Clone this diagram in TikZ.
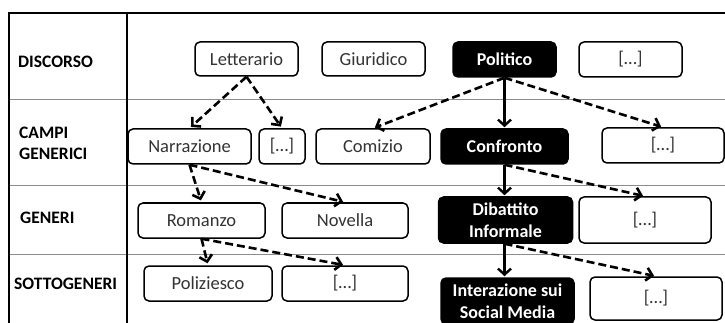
\documentclass[tikz,border=0pt]{standalone}
\usepackage{fontspec}
\setmainfont{Carlito}
\usetikzlibrary{arrows.meta}
\begin{document}
\begin{tikzpicture}[x=1pt,y=-1pt,
  box/.style={draw=black, line width=1.5pt, rounded corners=5pt, fill=white, text=black!80, inner sep=0pt, font=\fontsize{18.5}{21.5}\selectfont, align=center},
  hbox/.style={box, fill=black, text=white, font=\fontsize{18}{21.5}\selectfont\bfseries},
  lbl/.style={anchor=west, font=\fontsize{17.5}{21}\selectfont\bfseries, align=left, inner sep=0pt},
  darr/.style={line width=2.6pt, dash pattern=on 8pt off 4pt, shorten >=2pt, -{Straight Barb[length=6pt,width=13pt]}},
  sarr/.style={line width=2.4pt, shorten >=1pt, -{Straight Barb[length=6pt,width=13pt]}},
  sep/.style={draw=black!45, line width=0.8pt},
  frame/.style={draw=black, line width=1.4pt}]
\useasboundingbox (0,0) rectangle (725,323);
% grid
\draw[sep] (9,99) -- (725,99);
\draw[sep] (9,185) -- (725,185);
\draw[sep] (9,254) -- (725,254);
\draw[frame] (9,323) -- (9,13) -- (725,13);
\draw[frame] (127,13) -- (127,323);
% row labels
\node[lbl] (l1) at (18,62) {DISCORSO};
\node[lbl] (l2) at (19,143) {CAMPI\\GENERICI};
\node[lbl] (l3) at (20,218) {GENERI};
\node[lbl] (l4) at (14,284) {SOTTOGENERI};
% row 1
\node[box, minimum width=103pt, minimum height=34pt] (let) at (246.5,59) {Letterario};
\node[box, minimum width=103pt, minimum height=34pt] (giu) at (373.5,59) {Giuridico};
\node[hbox, minimum width=103pt, minimum height=35pt] (pol) at (504.5,59.5) {Politico};
\node[box, minimum width=103pt, minimum height=35pt] (d4) at (630.5,59.5) {[…]};
% row 2
\node[box, minimum width=123pt, minimum height=35pt] (nar) at (189.5,146.5) {Narrazione};
\node[box, minimum width=46pt, minimum height=35pt] (c2) at (282,146.5) {[…]};
\node[box, minimum width=114pt, minimum height=35pt] (com) at (373,146.5) {Comizio};
\node[hbox, minimum width=127pt, minimum height=35pt] (con) at (504.5,146.5) {Confronto};
\node[box, minimum width=122pt, minimum height=35pt] (c5) at (663,145.5) {[…]};
% row 3
\node[box, minimum width=127pt, minimum height=35pt] (rom) at (201.5,220.5) {Romanzo};
\node[box, minimum width=126pt, minimum height=35pt] (nov) at (345,220.5) {Novella};
\node[hbox, minimum width=134pt, minimum height=46pt] (dib) at (505.5,220) {Dibattito\\Informale};
\node[box, minimum width=132pt, minimum height=46pt] (g4) at (645,220) {[…]};
% row 4
\node[box, minimum width=128pt, minimum height=35pt] (polz) at (208,283.5) {Poliziesco};
\node[box, minimum width=126pt, minimum height=35pt] (s2) at (345,283.5) {[…]};
\node[hbox, minimum width=133pt, minimum height=46pt] (int) at (507.5,301) {Interazione sui\\Social Media};
\node[box, minimum width=132pt, minimum height=43pt] (s4) at (656,298.5) {[…]};
% connectors
\draw[darr] (let.south) -- (nar.north);
\draw[darr] (let.south) -- (c2.north);
\draw[darr] (pol.south) -- (com.north);
\draw[sarr] (pol.south) -- (con.north);
\draw[darr] (pol.south) -- (c5.north);
\draw[darr] (nar.south) -- (rom.north);
\draw[darr] (nar.south) -- (nov.north);
\draw[darr] (rom.south) -- (polz.north);
\draw[darr] (rom.south) -- (s2.north);
\draw[sarr] (con.south) -- (con.south |- dib.north);
\draw[darr] (con.south) -- (g4.north);
\draw[sarr] (con.south |- dib.south) -- (con.south |- int.north);
\draw[darr] (con.south |- dib.south) -- (s4.north);
\end{tikzpicture}
\end{document}
